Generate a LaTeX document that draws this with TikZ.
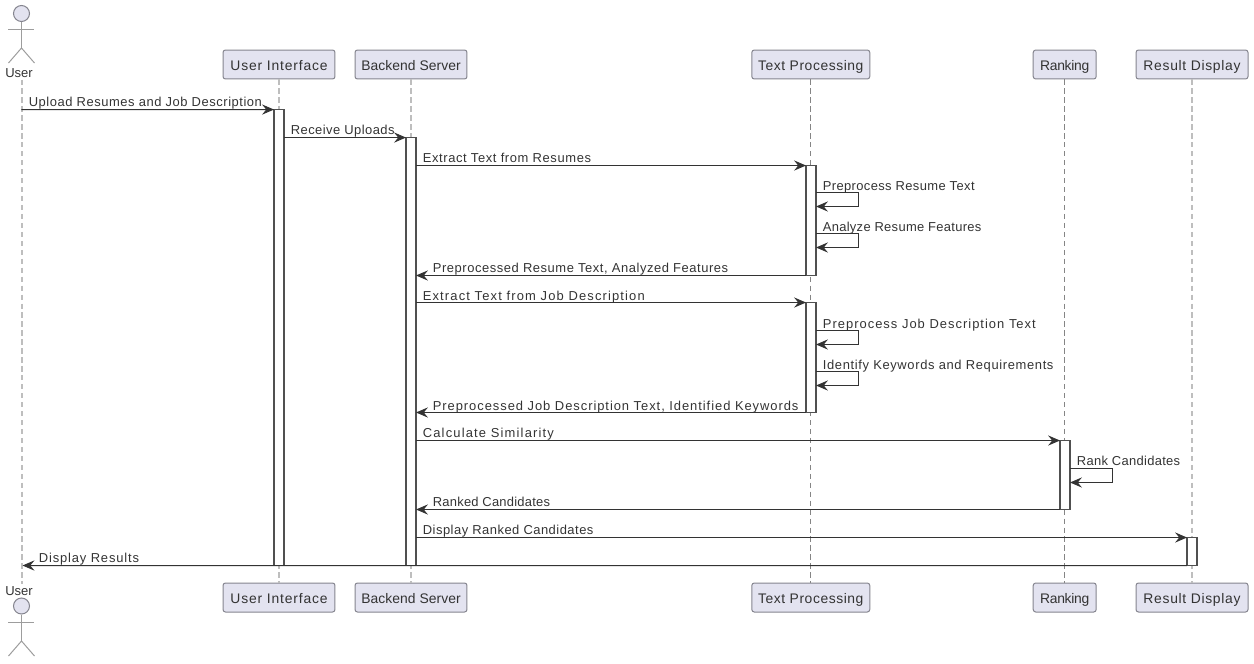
\documentclass[tikz,border=0pt]{standalone}
\usepackage{fontspec}
\setmainfont{Liberation Sans}
\usetikzlibrary{arrows.meta}

\definecolor{boxfill}{HTML}{E3E3F0}
\definecolor{boxline}{HTML}{85858F}
\definecolor{lifegray}{HTML}{858585}
\definecolor{lifelight}{HTML}{BEBEBE}
\definecolor{inkline}{HTML}{333333}
\definecolor{activeline}{HTML}{505050}

\tikzset{
    party/.style = {draw = boxline, fill = boxfill, rounded corners = 0.5mm, line width = 0.57pt, inner sep = 0pt, minimum height = 5.8mm, text height = 8.4pt, text depth = 1.6pt, text = inkline, font = \fontsize{7.9}{9}\selectfont\addfontfeature{LetterSpace=#1}},
    party/.default = 5,
    actorname/.style = {inner sep = 0pt, text = inkline, font = \fontsize{7.4}{9}\selectfont},
    actorhead/.style = {circle, draw = boxline, fill = boxfill, line width = 0.57pt, inner sep = 0pt, minimum size = 3.2mm},
    actorline/.style = {draw = lifegray!80, line width = 0.57pt},
    lifeline/.style = {draw = lifegray, line width = 0.57pt, dash pattern = on 3pt off 2.1pt},
    lifewide/.style = {draw = lifelight, line width = 1.13pt, dash pattern = on 3pt off 2.1pt},
    active/.style = {draw = activeline, fill = white, line width = 0.8pt, inner sep = 0pt, outer sep = 0pt, minimum width = 2mm},
    msg/.style = {draw = inkline, line width = 0.57pt, -{Stealth[length = 6.8pt, width = 5.8pt, inset = 2.4pt]}},
    msglabel/.style = {anchor = base west, inner sep = 0pt, text = inkline, font = \fontsize{7.37}{9}\selectfont\addfontfeature{LetterSpace=#1}},
    msglabel/.default = 5
}

\begin{document}
\begin{tikzpicture}[x = 0.02cm, y = -0.02cm]
    \useasboundingbox (0.5, 0.5) rectangle (1254.5, 663.5);

    \node (ui) at (279.5, 65) [party = 6, minimum width = 22.4mm] {User Interface};
    \node (be) at (411.5, 65) [party = 0.4, minimum width = 22.4mm] {Backend Server};
    \node (tp) at (811.3, 65) [party = 4, minimum width = 23.6mm] {Text Processing};
    \node (rk) at (1065.2, 65) [party = -2, minimum width = 12.6mm] {Ranking};
    \node (rd) at (1192.5, 65) [party, minimum width = 22.4mm] {Result Display};

    \node (uib) at (279.5, 598) [party = 6, minimum width = 22.4mm] {User Interface};
    \node (beb) at (411.5, 598) [party = 0.4, minimum width = 22.4mm] {Backend Server};
    \node (tpb) at (811.3, 598) [party = 4, minimum width = 23.6mm] {Text Processing};
    \node (rkb) at (1065.2, 598) [party = -2, minimum width = 12.6mm] {Ranking};
    \node (rdb) at (1192.5, 598) [party, minimum width = 22.4mm] {Result Display};

    % actor on top
    \node (head) at (22, 14) [actorhead] {};
    \coordinate (hip) at (22, 48.5);
    \coordinate (arml) at (9, 29.5);
    \coordinate (armr) at (35, 29.5);
    \coordinate (legl) at (9, 63.5);
    \coordinate (legr) at (35, 63.5);
    \draw[actorline] (head) -- (hip);
    \draw[actorline] (arml) -- (armr);
    \draw[actorline] (legl) -- (hip) -- (legr);
    \node (user) at (19.5, 73.5) [actorname] {User};

    % actor below
    \node (headb) at (22, 606.5) [actorhead] {};
    \coordinate (hipb) at (22, 641.5);
    \coordinate (armlb) at (9, 622.5);
    \coordinate (armrb) at (35, 622.5);
    \coordinate (leglb) at (9, 656.5);
    \coordinate (legrb) at (35, 656.5);
    \draw[actorline] (headb) -- (hipb);
    \draw[actorline] (armlb) -- (armrb);
    \draw[actorline] (leglb) -- (hipb) -- (legrb);
    \node (userb) at (19.5, 591.5) [actorname] {User};

    \coordinate (usertop) at (22.5, 80);
    \coordinate (userbot) at (22.5, 584);
    \draw[lifewide] (usertop) -- (userbot);
    \draw[lifewide] (ui) -- (uib);
    \draw[lifewide] (be) -- (beb);
    \draw[lifeline] (tp) -- (tpb);
    \draw[lifeline] (rk) -- (rkb);
    \draw[lifewide] (rd) -- (rdb);

    \node (aui) at (279.5, 338) [active, minimum height = 91.2mm] {};
    \node (abe) at (411.5, 352) [active, minimum height = 85.6mm] {};
    \node (atp1) at (811.5, 221) [active, minimum height = 22mm] {};
    \node (atp2) at (811.5, 358) [active, minimum height = 22mm] {};
    \node (ark) at (1065.5, 475.5) [active, minimum height = 13.8mm] {};
    \node (ard) at (1192.5, 552) [active, minimum height = 5.6mm] {};

    \coordinate (u1) at (22, 110);
    \coordinate (u2) at (23, 566);
    \draw[msg] (u1) -- (aui.north west);
    \draw[msg] (aui.east |- abe.north) -- (abe.north west);
    \draw[msg] (abe.east |- atp1.north) -- (atp1.north west);
    \draw[msg] (atp1.south west) -- (abe.east |- atp1.south);
    \draw[msg] (abe.east |- atp2.north) -- (atp2.north west);
    \draw[msg] (atp2.south west) -- (abe.east |- atp2.south);
    \draw[msg] (abe.east |- ark.north) -- (ark.north west);
    \draw[msg] (ark.south west) -- (abe.east |- ark.south);
    \draw[msg] (abe.east |- ard.north) -- (ard.north west);
    \draw[msg] (ard.south west) -- (u2);

    \coordinate (s1a) at (816.5, 193);
    \coordinate (s1b) at (858.5, 193);
    \coordinate (s1c) at (858.5, 207);
    \coordinate (s1d) at (816.5, 207);
    \coordinate (s2a) at (816.5, 234);
    \coordinate (s2b) at (858.5, 234);
    \coordinate (s2c) at (858.5, 248);
    \coordinate (s2d) at (816.5, 248);
    \coordinate (s3a) at (816.5, 331);
    \coordinate (s3b) at (858.5, 331);
    \coordinate (s3c) at (858.5, 345);
    \coordinate (s3d) at (816.5, 345);
    \coordinate (s4a) at (816.5, 372);
    \coordinate (s4b) at (858.5, 372);
    \coordinate (s4c) at (858.5, 386);
    \coordinate (s4d) at (816.5, 386);
    \coordinate (s5a) at (1070.5, 469);
    \coordinate (s5b) at (1112.5, 469);
    \coordinate (s5c) at (1112.5, 483);
    \coordinate (s5d) at (1070.5, 483);
    \draw[msg] (s1a) -- (s1b) -- (s1c) -- (s1d);
    \draw[msg] (s2a) -- (s2b) -- (s2c) -- (s2d);
    \draw[msg] (s3a) -- (s3b) -- (s3c) -- (s3d);
    \draw[msg] (s4a) -- (s4b) -- (s4c) -- (s4d);
    \draw[msg] (s5a) -- (s5b) -- (s5c) -- (s5d);

    \node (l1) at (29, 107) [msglabel = 4.2] {Upload Resumes and Job Description};
    \node (l2) at (291, 135) [msglabel = 3.5] {Receive Uploads};
    \node (l3) at (423, 163) [msglabel = 4.7] {Extract Text from Resumes};
    \node (l4) at (823, 191) [msglabel = 2.9] {Preprocess Resume Text};
    \node (l5) at (823, 232) [msglabel = 2.3] {Analyze Resume Features};
    \node (l6) at (433, 273) [msglabel = 4.3] {Preprocessed Resume Text, Analyzed Features};
    \node (l7) at (423, 301) [msglabel = 8.8] {Extract Text from Job Description};
    \node (l8) at (823, 329) [msglabel = 7.8] {Preprocess Job Description Text};
    \node (l9) at (823, 370) [msglabel = 4.9] {Identify Keywords and Requirements};
    \node (l10) at (433, 411) [msglabel = 7.3] {Preprocessed Job Description Text, Identified Keywords};
    \node (l11) at (423, 438) [msglabel = 9] {Calculate Similarity};
    \node (l12) at (1077, 466) [msglabel = 2.4] {Rank Candidates};
    \node (l13) at (433, 507) [msglabel = 1.8] {Ranked Candidates};
    \node (l14) at (423, 535) [msglabel = 3.8] {Display Ranked Candidates};
    \node (l15) at (39, 563) [msglabel = 6.5] {Display Results};
\end{tikzpicture}
\end{document}
